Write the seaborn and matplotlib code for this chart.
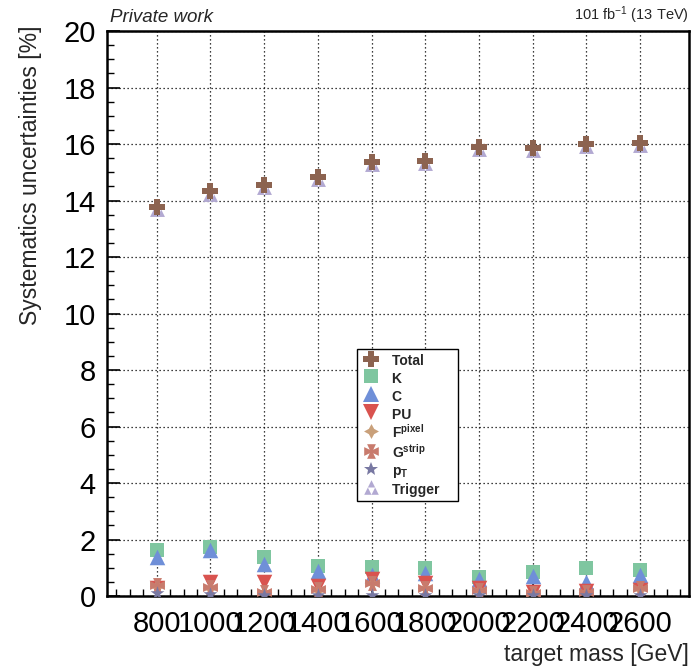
import matplotlib
matplotlib.use("Agg")
import matplotlib.pyplot as plt
import numpy as np
import pandas as pd
import seaborn as sns
from matplotlib.lines import Line2D
from matplotlib.path import Path

# target masses [GeV]
masses = [800, 1000, 1200, 1400, 1600, 1800, 2000, 2200, 2400, 2600]

# systematic uncertainties [%]
total = [13.77, 14.32, 14.55, 14.83, 15.38, 15.41, 15.88, 15.87, 16.00, 16.05]
k_unc = [1.62, 1.74, 1.39, 1.07, 1.04, 0.98, 0.68, 0.86, 0.98, 0.92]
c_unc = [1.39, 1.62, 1.15, 0.90, 0.74, 0.80, 0.59, 0.71, 0.50, 0.74]
pu_unc = [0.30, 0.50, 0.50, 0.35, 0.60, 0.45, 0.28, 0.15, 0.18, 0.22]
f_unc = [0.35, 0.30, 0.15, 0.22, 0.45, 0.27, 0.20, 0.10, 0.15, 0.25]
g_unc = [0.39, 0.33, 0.15, 0.25, 0.45, 0.27, 0.20, 0.10, 0.15, 0.27]
pt_unc = [0.10, 0.08, 0.05, 0.05, 0.05, 0.05, 0.05, 0.03, 0.05, 0.05]
trigger_unc = [13.69, 14.23, 14.47, 14.75, 15.30, 15.33, 15.81, 15.80, 15.93, 15.98]

# custom marker shapes
g_marker = Path(np.array([(-0.3, 0.5), (0.3, 0.5), (0.12, 0.12), (0.5, 0.3), (0.5, -0.3),
                          (0.12, -0.12), (0.3, -0.5), (-0.3, -0.5), (-0.12, -0.12),
                          (-0.5, -0.3), (-0.5, 0.3), (-0.12, 0.12), (-0.3, 0.5)]), closed=True)
tri = lambda cx, cy, h: [(cx - h, cy - h), (cx + h, cy - h), (cx, cy + h), (cx - h, cy - h)]
trig_marker = Path.make_compound_path(Path(tri(-0.25, -0.25, 0.25), closed=True),
                                      Path(tri(0.25, -0.25, 0.25), closed=True),
                                      Path(tri(0.0, 0.25, 0.25), closed=True))

series = [
    # name, values, label, colour, marker, size, zorder
    ("Trigger", trigger_unc, "Trigger", "#b2a9d2", trig_marker, 115, 2),
    ("K", k_unc, "K", "#7fc6a0", "s", 115, 3),
    ("C", c_unc, "C", "#6f8fd8", "^", 125, 4),
    ("PU", pu_unc, "PU", "#d9534f", "v", 125, 5),
    ("F", f_unc, r"F$^{\mathbf{pixel}}$", "#c9a07a", (4, 1, 0), 120, 6),
    ("G", g_unc, r"G$^{\mathbf{strip}}$", "#c87b6d", g_marker, 115, 7),
    ("pT", pt_unc, r"p$_{\mathbf{T}}$", "#7878a2", "*", 110, 8),
    ("Total", total, "Total", "#8c6350", "P", 130, 9),
]

sns.set_theme(style="ticks")
plt.rcParams['font.family'] = ['Liberation Sans', 'DejaVu Sans']
plt.rcParams['mathtext.fontset'] = 'custom'
plt.rcParams['mathtext.rm'] = 'Liberation Sans'
plt.rcParams['mathtext.bf'] = 'Liberation Sans:bold'
plt.rcParams['mathtext.it'] = 'Liberation Sans:italic'

fig = plt.figure(figsize=(6.94, 6.67), dpi=100)
ax = fig.add_axes([0.1542, 0.1064, 0.8386, 0.8471])

for name, vals, label, color, marker, size, z in series:
    df = pd.DataFrame({'mass': masses, 'unc': vals})
    sns.scatterplot(data=df, x='mass', y='unc', ax=ax, color=color, marker=marker,
                    s=size, linewidth=0, zorder=z)

ax.set_xlim(615, 2782)
ax.set_ylim(0, 20)
ax.set_xticks(masses)
ax.set_xticklabels([str(m) for m in masses])
ax.set_yticks(np.arange(0, 21, 2))
ax.xaxis.set_minor_locator(matplotlib.ticker.MultipleLocator(50))
ax.yaxis.set_minor_locator(matplotlib.ticker.MultipleLocator(0.5))
ax.tick_params(which='both', direction='in', colors='black', labelsize=21)
ax.tick_params(which='major', length=9, width=1.2)
ax.tick_params(which='minor', length=5, width=1.0)
ax.tick_params(axis='x', pad=10)
ax.tick_params(axis='y', pad=8)
ax.grid(True, which='major', linestyle=(0, (1, 2.2)), color='black', linewidth=0.9)
for sp in ax.spines.values():
    sp.set_linewidth(1.8)
    sp.set_color('black')

ax.set_xlabel('target mass [GeV]', fontsize=16.5, ha='right')
ax.xaxis.set_label_coords(1.0, -0.083)
ax.set_ylabel('Systematics uncertainties [%]', fontsize=16.5, ha='right')
ax.yaxis.set_label_coords(-0.112, 1.01)

ax.text(0.005, 1.008, 'Private work', transform=ax.transAxes, fontsize=13.5,
        style='italic', ha='left', va='bottom')
ax.text(1.0, 1.008, r'101 fb$^{-1}$ (13 TeV)', transform=ax.transAxes, fontsize=10.5,
        ha='right', va='bottom')

# legend in the reference order, drawn on top of the markers
# a tall handle box keeps every row the same height regardless of super/subscripts
order = ["Total", "K", "C", "PU", "F", "G", "pT", "Trigger"]
lookup = {s[0]: s for s in series}
handles = []
labels = []
for name in order:
    _, _, label, color, marker, size, _ = lookup[name]
    handles.append(Line2D([], [], linestyle='none', marker=marker, color=color,
                          markersize=np.sqrt(size) * 0.98, markeredgewidth=0))
    labels.append(label + '    ')
leg = ax.legend(handles, labels, loc='upper left', bbox_to_anchor=(0.43, 0.437),
                borderaxespad=0, fancybox=False, framealpha=1, edgecolor='black',
                prop={'weight': 'bold', 'size': 10}, labelspacing=0.0,
                handleheight=1.6, handlelength=1.6, handletextpad=0.7, borderpad=0.2)
leg.get_frame().set_linewidth(1.0)
leg.set_zorder(20)

fig.savefig('out.png', dpi=100)
